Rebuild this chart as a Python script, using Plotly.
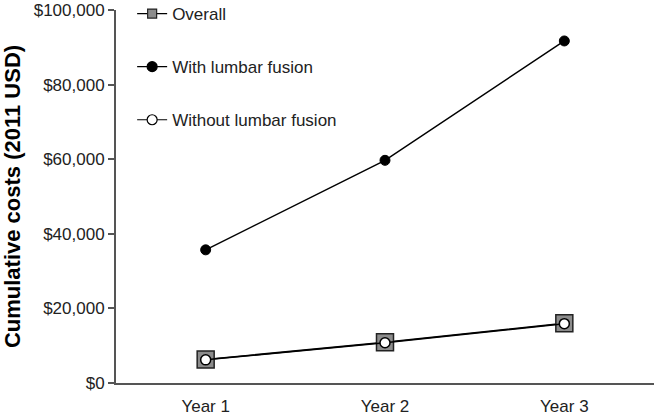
import plotly.graph_objects as go

years = ["Year 1", "Year 2", "Year 3"]
overall = [6300, 10900, 16000]
with_fusion = [35700, 59700, 91700]
without_fusion = [6200, 10800, 15900]
y_tickvals = [0, 20000, 40000, 60000, 80000, 100000]
y_ticktext = ["$0", "$20,000", "$40,000", "$60,000", "$80,000", "$100,000"]

styles = {
    "Overall": dict(symbol="square", color="#8c8c8c", lc="#222", lw=1.5, size=17, lsize=9),
    "With lumbar fusion": dict(symbol="circle", color="black", lc="black", lw=1, size=10, lsize=10),
    "Without lumbar fusion": dict(symbol="circle", color="white", lc="black", lw=1.5, size=10, lsize=10),
}
series = [("Overall", overall), ("With lumbar fusion", with_fusion), ("Without lumbar fusion", without_fusion)]

fig = go.Figure()
for i, (name, vals) in enumerate(series):
    s = styles[name]
    fig.add_trace(go.Scatter(
        x=years, y=vals, name=name, mode="lines+markers", showlegend=False,
        line=dict(color="black", width=1.5),
        marker=dict(symbol=s["symbol"], size=s["size"], color=s["color"],
                    line=dict(color=s["lc"], width=s["lw"]))))
for i, (name, vals) in enumerate(series):
    s = styles[name]
    fig.add_trace(go.Scatter(
        x=[None], y=[None], name=name, mode="lines+markers", showlegend=True,
        legendgroup=str(i),
        line=dict(color="black", width=1.2),
        marker=dict(symbol=s["symbol"], size=s["lsize"], color=s["color"],
                    line=dict(color=s["lc"], width=1.2))))

fig.update_layout(
    width=654, height=415,
    margin=dict(l=116, r=0, t=10, b=32, autoexpand=False),
    plot_bgcolor="white", paper_bgcolor="white",
    font=dict(family="Liberation Sans, Arial, sans-serif", size=17, color="#222"),
    showlegend=True,
    legend=dict(x=0.030, y=1.0375, xanchor="left", yanchor="top",
                traceorder="grouped", tracegroupgap=28,
                font=dict(size=17, color="#222"), bgcolor="rgba(0,0,0,0)",
                itemwidth=30),
    xaxis=dict(range=[-0.5, 2.5], showline=True, linecolor="#555", linewidth=2,
               ticks="", showgrid=False, zeroline=False, ticklabelstandoff=7,
               tickfont=dict(size=17)),
    yaxis=dict(range=[0, 100000], tickvals=y_tickvals, ticktext=y_ticktext,
               showline=True, linecolor="#555", linewidth=2,
               ticks="outside", ticklen=6, tickcolor="#555", tickwidth=2,
               showgrid=False, zeroline=False, tickfont=dict(size=17),
               title=dict(text="<b>Cumulative costs (2011 USD)</b>",
                          font=dict(size=22, color="black"), standoff=8)),
)

fig.write_html("out.html", config={"displayModeBar": False},
               post_script="document.body.style.margin='0';")
